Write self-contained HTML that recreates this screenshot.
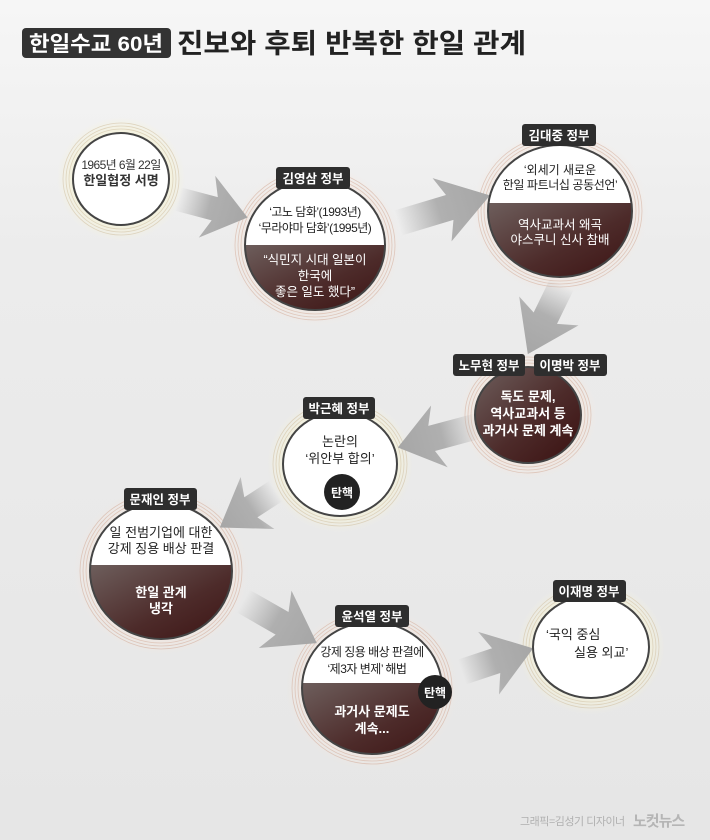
<!DOCTYPE html>
<html><head><meta charset="utf-8"><style>
html,body{margin:0;padding:0;width:710px;height:840px;overflow:hidden;background:#e9e9e9}
svg{display:block}
text{font-family:"Liberation Sans","Noto Sans CJK KR",sans-serif}
</style></head><body>
<svg width="710" height="840" viewBox="0 0 710 840" xmlns="http://www.w3.org/2000/svg">
<defs>
<linearGradient id="bg" x1="0" y1="0" x2="0" y2="1">
<stop offset="0" stop-color="#f6f6f6"/><stop offset="0.3" stop-color="#ececec"/><stop offset="1" stop-color="#e6e6e6"/>
</linearGradient>
<linearGradient id="dark" x1="0" y1="0" x2="1" y2="1">
<stop offset="0" stop-color="#6e5f5d"/><stop offset="0.55" stop-color="#4d2b2a"/><stop offset="1" stop-color="#3a1010"/>
</linearGradient>
<linearGradient id="ag" x1="0" y1="0" x2="1" y2="0">
<stop offset="0" stop-color="#aaa" stop-opacity="0"/><stop offset="0.45" stop-color="#a9a9a9" stop-opacity="0.9"/><stop offset="1" stop-color="#a6a6a6"/>
</linearGradient>
<radialGradient id="glowY"><stop offset="0.7" stop-color="#f6f3d8" stop-opacity="0.9"/><stop offset="1" stop-color="#f6f3d8" stop-opacity="0"/></radialGradient>
<radialGradient id="glowR"><stop offset="0.7" stop-color="#f5e6dc" stop-opacity="0.8"/><stop offset="1" stop-color="#f5e6dc" stop-opacity="0"/></radialGradient>
<clipPath id="c2"><ellipse cx="315" cy="245" rx="70" ry="65"/></clipPath>
<clipPath id="c3"><ellipse cx="560" cy="211" rx="72" ry="66"/></clipPath>
<clipPath id="c6"><ellipse cx="161" cy="571" rx="71" ry="68"/></clipPath>
<clipPath id="c7"><ellipse cx="372" cy="688" rx="70" ry="66"/></clipPath>
</defs>
<rect width="710" height="840" fill="url(#bg)"/>

<!-- title -->
<rect x="22" y="28" width="149" height="30" rx="4" fill="#333"/>
<text x="96" y="51" font-size="21" font-weight="bold" fill="#fff" text-anchor="middle" textLength="134" lengthAdjust="spacingAndGlyphs">한일수교 60년</text>
<text x="177" y="53" font-size="27" font-weight="bold" fill="#222" textLength="349" lengthAdjust="spacingAndGlyphs">진보와 후퇴 반복한 한일 관계</text>

<!-- glows & rings -->
<g fill="none">
<ellipse cx="121" cy="179" rx="64" ry="62" fill="url(#glowY)" stroke="none"/>
<ellipse cx="315" cy="245" rx="86" ry="81" fill="url(#glowR)" stroke="none"/>
<ellipse cx="560" cy="211" rx="88" ry="82" fill="url(#glowR)" stroke="none"/>
<ellipse cx="528" cy="415" rx="69" ry="64" fill="url(#glowR)" stroke="none"/>
<ellipse cx="340" cy="464" rx="73" ry="68" fill="url(#glowY)" stroke="none"/>
<ellipse cx="161" cy="571" rx="87" ry="84" fill="url(#glowR)" stroke="none"/>
<ellipse cx="372" cy="688" rx="86" ry="82" fill="url(#glowR)" stroke="none"/>
<ellipse cx="591" cy="647" rx="74" ry="67" fill="url(#glowY)" stroke="none"/>
<g stroke="#cdbb9a" stroke-opacity="0.55" stroke-width="0.8">
<ellipse cx="121" cy="179" rx="52" ry="50"/><ellipse cx="121" cy="179" rx="55" ry="53"/><ellipse cx="121" cy="179" rx="58" ry="56"/>
<ellipse cx="340" cy="464" rx="61" ry="56"/><ellipse cx="340" cy="464" rx="64" ry="59"/><ellipse cx="340" cy="464" rx="67" ry="62"/>
<ellipse cx="591" cy="647" rx="62" ry="55"/><ellipse cx="591" cy="647" rx="65" ry="58"/><ellipse cx="591" cy="647" rx="68" ry="61"/>
</g>
<g stroke="#d2a894" stroke-opacity="0.55" stroke-width="0.8">
<ellipse cx="315" cy="245" rx="74" ry="69"/><ellipse cx="315" cy="245" rx="77" ry="72"/><ellipse cx="315" cy="245" rx="80" ry="75"/>
<ellipse cx="560" cy="211" rx="76" ry="70"/><ellipse cx="560" cy="211" rx="79" ry="73"/><ellipse cx="560" cy="211" rx="82" ry="76"/>
<ellipse cx="528" cy="415" rx="57" ry="52"/><ellipse cx="528" cy="415" rx="60" ry="55"/><ellipse cx="528" cy="415" rx="63" ry="58"/>
<ellipse cx="161" cy="571" rx="75" ry="72"/><ellipse cx="161" cy="571" rx="78" ry="75"/><ellipse cx="161" cy="571" rx="81" ry="78"/>
<ellipse cx="372" cy="688" rx="74" ry="70"/><ellipse cx="372" cy="688" rx="77" ry="73"/><ellipse cx="372" cy="688" rx="80" ry="76"/>
</g>
</g>

<!-- arrows -->
<g fill="url(#ag)">
<polygon transform="translate(178,199) rotate(14.9)" points="0,-12 38,-12 30,-32 72,0 30,32 38,12 0,12"/>
<polygon transform="translate(398,223) rotate(-16.7)" points="0,-13 54,-13 46,-33 96,0 46,33 54,13 0,13"/>
<polygon transform="translate(562,284) rotate(116)" points="0,-13 38,-13 30,-33 78,0 30,33 38,13 0,13"/>
<polygon transform="translate(478,426) rotate(165)" points="0,-13 48,-13 40,-32 83,0 40,32 48,13 0,13"/>
<polygon transform="translate(276,491) rotate(147)" points="0,-12 30,-12 22,-31 67,0 22,31 30,12 0,12"/>
<polygon transform="translate(243,601) rotate(29.7)" points="0,-13 45,-13 37,-33 85,0 37,33 45,13 0,13"/>
<polygon transform="translate(462,672) rotate(-18.4)" points="0,-13 36,-13 28,-33 75,0 28,33 36,13 0,13"/>
</g>

<!-- circle 1 -->
<ellipse cx="121" cy="179" rx="48" ry="46" fill="#fff" stroke="#444" stroke-width="2"/>
<text x="121" y="169" font-size="12" fill="#333" text-anchor="middle" letter-spacing="-0.6">1965년 6월 22일</text>
<text x="121" y="185" font-size="13" font-weight="bold" fill="#333" text-anchor="middle">한일협정 서명</text>

<!-- circle 2 -->
<ellipse cx="315" cy="245" rx="70" ry="65" fill="#fff"/>
<rect x="240" y="245" width="150" height="70" fill="url(#dark)" clip-path="url(#c2)"/>
<ellipse cx="315" cy="245" rx="70" ry="65" fill="none" stroke="#444" stroke-width="2"/>
<text x="315" y="216" font-size="12" fill="#222" text-anchor="middle" letter-spacing="-0.5">‘고노 담화’(1993년)</text>
<text x="315" y="232" font-size="12" fill="#222" text-anchor="middle" letter-spacing="-0.5">‘무라야마 담화’(1995년)</text>
<text x="315" y="264" font-size="12.5" fill="#fff" text-anchor="middle">“식민지 시대 일본이</text>
<text x="315" y="280" font-size="12.5" fill="#fff" text-anchor="middle">한국에</text>
<text x="315" y="296" font-size="12.5" fill="#fff" text-anchor="middle">좋은 일도 했다”</text>
<rect x="276" y="167" width="74" height="22" rx="3" fill="#2e2e2e"/>
<text x="313" y="183" font-size="12.5" font-weight="bold" fill="#fff" text-anchor="middle">김영삼 정부</text>

<!-- circle 3 -->
<ellipse cx="560" cy="211" rx="72" ry="66" fill="#fff"/>
<rect x="485" y="203" width="150" height="80" fill="url(#dark)" clip-path="url(#c3)"/>
<ellipse cx="560" cy="211" rx="72" ry="66" fill="none" stroke="#444" stroke-width="2"/>
<text x="560" y="174" font-size="12" fill="#222" text-anchor="middle">‘외세기 새로운</text>
<text x="560" y="189" font-size="12" fill="#222" text-anchor="middle" letter-spacing="-0.4">한일 파트너십 공동선언’</text>
<text x="560" y="229" font-size="12.5" fill="#fff" text-anchor="middle">역사교과서 왜곡</text>
<text x="560" y="244" font-size="12.5" fill="#fff" text-anchor="middle">야스쿠니 신사 참배</text>
<rect x="522" y="124" width="74" height="22" rx="3" fill="#2e2e2e"/>
<text x="559" y="140" font-size="12.5" font-weight="bold" fill="#fff" text-anchor="middle">김대중 정부</text>

<!-- circle 4 -->
<ellipse cx="528" cy="415" rx="53" ry="48" fill="url(#dark)" stroke="#444" stroke-width="2"/>
<text x="528" y="401" font-size="13" font-weight="bold" fill="#fff" text-anchor="middle">독도 문제,</text>
<text x="528" y="418" font-size="13" font-weight="bold" fill="#fff" text-anchor="middle">역사교과서  등</text>
<text x="528" y="435" font-size="13" font-weight="bold" fill="#fff" text-anchor="middle">과거사 문제 계속</text>
<rect x="453" y="354" width="72" height="22" rx="3" fill="#2e2e2e"/>
<text x="489" y="370" font-size="12.5" font-weight="bold" fill="#fff" text-anchor="middle">노무현 정부</text>
<rect x="534" y="354" width="73" height="22" rx="3" fill="#2e2e2e"/>
<text x="570" y="370" font-size="12.5" font-weight="bold" fill="#fff" text-anchor="middle">이명박 정부</text>

<!-- circle 5 -->
<ellipse cx="340" cy="464" rx="57" ry="52" fill="#fff" stroke="#444" stroke-width="2"/>
<text x="340" y="446" font-size="13" fill="#222" text-anchor="middle">논란의</text>
<text x="340" y="463" font-size="13" fill="#222" text-anchor="middle">‘위안부 합의’</text>
<circle cx="342" cy="492" r="18" fill="#222"/>
<text x="342" y="497" font-size="12" font-weight="bold" fill="#fff" text-anchor="middle">탄핵</text>
<rect x="303" y="397" width="72" height="22" rx="3" fill="#2e2e2e"/>
<text x="339" y="413" font-size="12.5" font-weight="bold" fill="#fff" text-anchor="middle">박근혜 정부</text>

<!-- circle 6 -->
<ellipse cx="161" cy="571" rx="71" ry="68" fill="#fff"/>
<rect x="88" y="565" width="150" height="80" fill="url(#dark)" clip-path="url(#c6)"/>
<ellipse cx="161" cy="571" rx="71" ry="68" fill="none" stroke="#444" stroke-width="2"/>
<text x="161" y="537" font-size="13" fill="#222" text-anchor="middle">일 전범기업에 대한</text>
<text x="161" y="553" font-size="13" fill="#222" text-anchor="middle">강제 징용 배상 판결</text>
<text x="161" y="597" font-size="13" font-weight="bold" fill="#fff" text-anchor="middle">한일 관계</text>
<text x="161" y="613" font-size="13" font-weight="bold" fill="#fff" text-anchor="middle">냉각</text>
<rect x="124" y="488" width="73" height="22" rx="3" fill="#2e2e2e"/>
<text x="160" y="504" font-size="12.5" font-weight="bold" fill="#fff" text-anchor="middle">문재인 정부</text>

<!-- circle 7 -->
<ellipse cx="372" cy="688" rx="70" ry="66" fill="#fff"/>
<rect x="300" y="683" width="150" height="80" fill="url(#dark)" clip-path="url(#c7)"/>
<ellipse cx="372" cy="688" rx="70" ry="66" fill="none" stroke="#444" stroke-width="2"/>
<text x="372" y="656" font-size="12" fill="#222" text-anchor="middle" letter-spacing="-0.5">강제 징용 배상 판결에</text>
<text x="367" y="673" font-size="12" fill="#222" text-anchor="middle" letter-spacing="-0.5">‘제3자 변제’ 해법</text>
<text x="372" y="716" font-size="13" font-weight="bold" fill="#fff" text-anchor="middle">과거사 문제도</text>
<text x="372" y="733" font-size="13" font-weight="bold" fill="#fff" text-anchor="middle">계속...</text>
<circle cx="435" cy="692" r="17" fill="#222"/>
<text x="435" y="697" font-size="12" font-weight="bold" fill="#fff" text-anchor="middle">탄핵</text>
<rect x="335" y="605" width="74" height="22" rx="3" fill="#2e2e2e"/>
<text x="372" y="621" font-size="12.5" font-weight="bold" fill="#fff" text-anchor="middle">윤석열 정부</text>

<!-- circle 8 -->
<ellipse cx="591" cy="647" rx="58" ry="51" fill="#fff" stroke="#444" stroke-width="2"/>
<text x="546" y="639" font-size="13" fill="#222">‘국익 중심</text>
<text x="574" y="657" font-size="13" fill="#222">실용 외교’</text>
<rect x="553" y="580" width="73" height="22" rx="3" fill="#2e2e2e"/>
<text x="589" y="596" font-size="12.5" font-weight="bold" fill="#fff" text-anchor="middle">이재명 정부</text>

<!-- credit -->
<text x="520" y="825" font-size="11" fill="#b0b0b0" letter-spacing="-0.5">그래픽=김성기 디자이너</text>
<text x="633" y="826" font-size="15" font-weight="bold" fill="#b5b5b5" letter-spacing="-1">노컷뉴스</text>
</svg>
</body></html>
